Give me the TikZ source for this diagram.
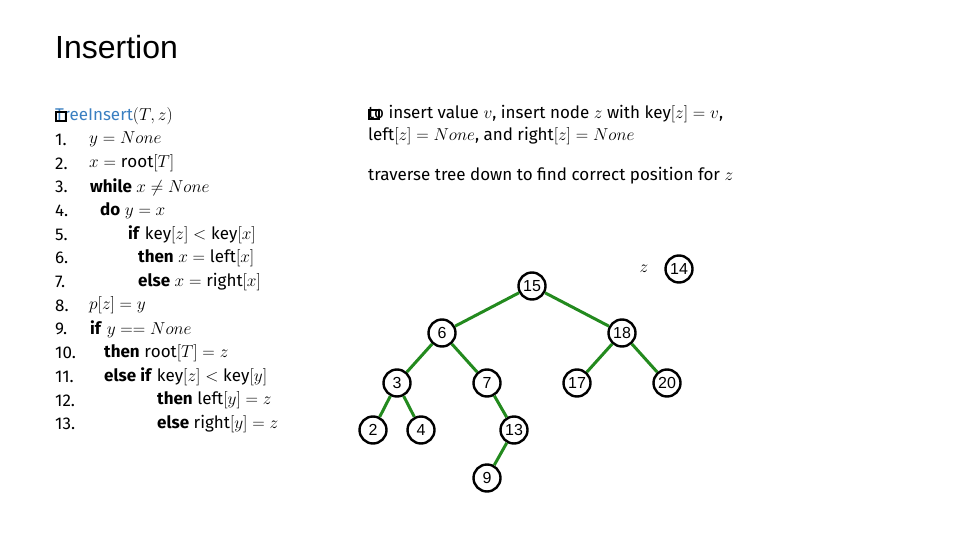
\documentclass[tikz,border=0pt]{standalone}
\usepackage{fontspec}
\setmainfont{Fira Sans}
\newfontfamily\arialfont{Liberation Sans}
\definecolor{hdrblue}{HTML}{3A7FC1}
\definecolor{edgegreen}{HTML}{238A1E}
\begin{document}
\begin{tikzpicture}[x=1pt,y=-1pt,
  key/.style = {circle,draw=black,line width=2.4pt,minimum size=27pt,inner sep=0pt,font=\arialfont\fontsize{16}{16}\selectfont},
  codeline/.style = {anchor=west,inner sep=0pt,font=\fontsize{17}{19}\selectfont},
  num/.style = {anchor=west,inner sep=0pt,font=\fontsize{17}{19}\selectfont},
  link/.style = {edgegreen,line width=3pt}]
\useasboundingbox (0,0) rectangle (960,540);
\node[anchor=west,inner sep=0pt,font=\arialfont\fontsize{32}{34}\selectfont] (title) at (55,47) {Insertion};
% pseudocode
\node[codeline,text=hdrblue] (head) at (55,116) {TreeInsert\textcolor{black}{$(T,z)$}};
\draw[line width=1.5pt] (56,112) rectangle (66,121);
\foreach \i in {1,...,13}
  \node[num] (n\i) at (55,{116+23.7*\i}) {\i.};
\node[codeline] (c1) at (89,139.7) {$y = None$};
\node[codeline] (c2) at (89,163.4) {$x = \mathrm{root}[T]$};
\node[codeline] (c3) at (90,187.1) {\textbf{while} $x \neq None$};
\node[codeline] (c4) at (100,210.8) {\textbf{do} $y = x$};
\node[codeline] (c5) at (128,234.5) {\textbf{if} $\mathrm{key}[z] < \mathrm{key}[x]$};
\node[codeline] (c6) at (138,258.2) {\textbf{then} $x = \mathrm{left}[x]$};
\node[codeline] (c7) at (138,281.9) {\textbf{else} $x = \mathrm{right}[x]$};
\node[codeline] (c8) at (89,305.6) {$p[z] = y$};
\node[codeline] (c9) at (90,329.3) {\textbf{if} $y == None$};
\node[codeline] (c10) at (104,353) {\textbf{then} $\mathrm{root}[T] = z$};
\node[codeline] (c11) at (104,376.7) {\textbf{else if} $\mathrm{key}[z] < \mathrm{key}[y]$};
\node[codeline] (c12) at (157,400.4) {\textbf{then} $\mathrm{left}[y] = z$};
\node[codeline] (c13) at (157,424.1) {\textbf{else} $\mathrm{right}[y] = z$};
% comments
\node[codeline] (r1) at (368,114) {to insert value $v$, insert node $z$ with $\mathrm{key}[z] = v$,};
\draw[line width=1.5pt] (369,110) rectangle (379,119);
\node[codeline] (r2) at (368,136) {$\mathrm{left}[z] = None$, and $\mathrm{right}[z] = None$};
\node[codeline] (r3) at (368,176) {traverse tree down to find correct position for $z$};
% tree
\node[key] (k15) at (532,286) {15};
\node[key] (k6) at (442,333) {6};
\node[key] (k18) at (622,333) {18};
\node[key] (k3) at (397,383) {3};
\node[key] (k7) at (487,383) {7};
\node[key] (k17) at (577,383) {17};
\node[key] (k20) at (667,383) {20};
\node[key] (k2) at (373,430) {2};
\node[key] (k4) at (421,430) {4};
\node[key] (k13) at (514,430) {13};
\node[key] (k9) at (487,478) {9};
\node[key] (k14) at (679,269) {14};
\node[font=\fontsize{16}{16}\selectfont] (zlab) at (644,269) {$z$};
\foreach \a/\b in {k15/k6,k15/k18,k6/k3,k6/k7,k18/k17,k18/k20,k3/k2,k3/k4,k7/k13,k13/k9}
  \draw[link] (\a) -- (\b);
\end{tikzpicture}
\end{document}
